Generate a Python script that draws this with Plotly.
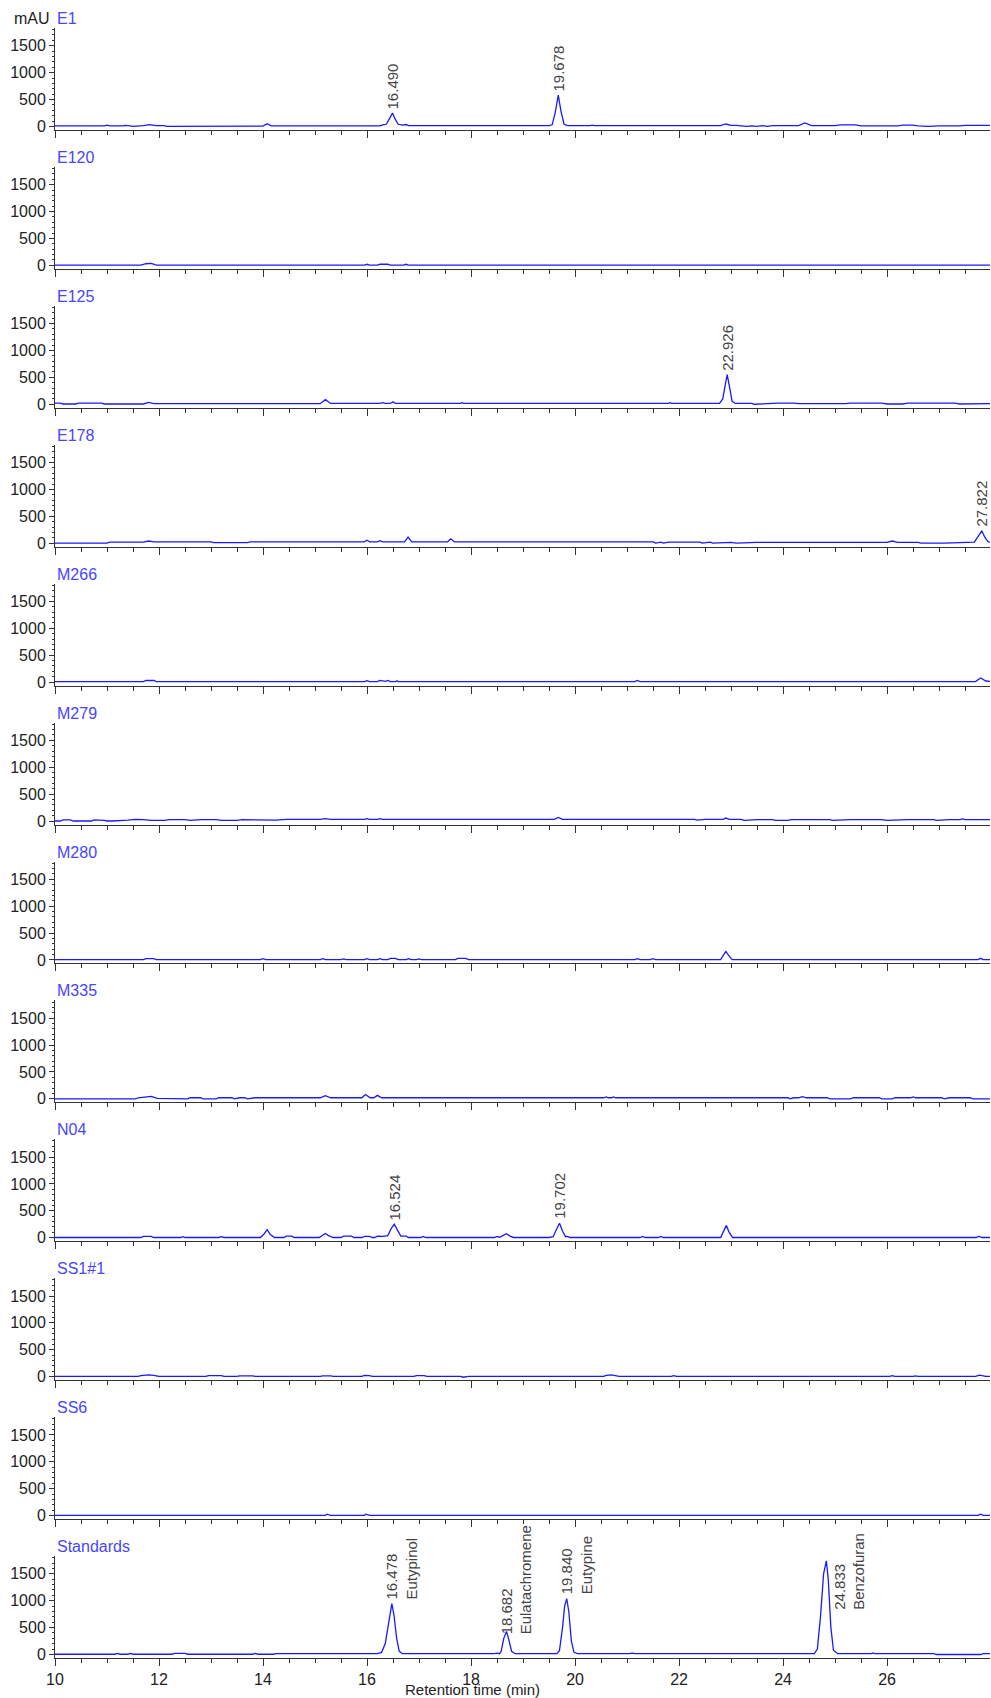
import plotly.graph_objects as go
from plotly.subplots import make_subplots

# ---------------- data (retention time in min, absorbance in mAU) ----------------
sample_names = ["E1", "E120", "E125", "E178", "M266", "M279", "M280", "M335",
                "N04", "SS1#1", "SS6", "Standards"]

e1 = [(10.0, 10), (10.95, 10), (11.0, 25), (11.05, 10), (11.3, 10), (11.35, 20), (11.45, 10),
      (11.5, 0), (11.7, 15), (11.82, 35), (11.95, 15), (12.1, 15), (12.15, 0), (14.0, 5),
      (14.08, 50), (14.16, 10), (16.2, 10), (16.25, 10), (16.3, 30), (16.37, 40), (16.43, 140),
      (16.49, 250), (16.54, 140), (16.6, 40), (16.68, 25), (16.75, 35), (16.8, 15), (16.9, 15),
      (19.5, 15), (19.56, 30), (19.62, 260), (19.678, 580), (19.73, 280), (19.79, 40),
      (19.86, 15), (20.3, 15), (20.33, 25), (20.37, 15), (22.8, 15), (22.9, 45), (23.0, 20),
      (23.1, 20), (23.3, 0), (23.4, 10), (23.5, 0), (23.6, 15), (23.7, 0), (23.8, 15),
      (24.3, 15), (24.42, 65), (24.55, 15), (25.0, 15), (25.1, 30), (25.4, 30), (25.5, 10),
      (26.2, 10), (26.3, 25), (26.5, 25), (26.6, 10), (26.8, 0), (27.0, 10), (27.4, 10),
      (27.5, 20), (27.98, 20)]

e120 = [(10.0, 5), (11.65, 5), (11.75, 30), (11.85, 35), (11.95, 5), (15.95, 5), (16.0, 20),
        (16.05, 5), (16.2, 5), (16.25, 20), (16.4, 20), (16.45, 5), (16.7, 5), (16.75, 20),
        (16.8, 5), (19.0, 5), (19.03, 15), (19.06, 5), (27.98, 5)]

e125 = [(10.0, 20), (10.1, 20), (10.15, 5), (10.4, 5), (10.45, 20), (10.9, 20), (10.95, 5),
        (11.7, 5), (11.8, 35), (11.9, 10), (15.1, 10), (15.2, 85), (15.3, 15), (16.25, 15),
        (16.3, 30), (16.35, 15), (16.45, 15), (16.5, 45), (16.55, 15), (17.8, 15), (17.83, 30),
        (17.86, 15), (21.8, 15), (21.83, 30), (21.86, 15), (22.5, 15), (22.7, 5), (22.78, 15),
        (22.84, 100), (22.89, 380), (22.926, 550), (22.97, 330), (23.02, 60), (23.08, 15),
        (23.4, 15), (23.45, 0), (23.6, 10), (23.8, 10), (23.9, 20), (24.2, 20), (24.3, 10),
        (25.2, 10), (25.3, 20), (25.9, 20), (26.0, 5), (26.3, 5), (26.4, 20), (27.3, 20),
        (27.4, 5), (27.98, 10)]

e178 = [(10.0, 0), (11.0, 0), (11.05, 20), (11.7, 20), (11.8, 40), (11.9, 25), (13.0, 25),
        (13.05, 10), (13.7, 10), (13.75, 25), (15.95, 25), (16.0, 55), (16.05, 25), (16.2, 25),
        (16.25, 45), (16.3, 25), (16.72, 25), (16.79, 115), (16.86, 25), (17.55, 25),
        (17.61, 80), (17.68, 25), (21.5, 25), (21.55, 0), (21.65, 20), (21.7, 0), (21.8, 20),
        (22.4, 20), (22.45, 0), (22.6, 20), (22.65, 0), (23.0, 15), (23.1, 0), (23.5, 15),
        (26.0, 15), (26.1, 40), (26.2, 15), (26.6, 15), (26.65, 0), (27.1, 0), (27.68, 20),
        (27.75, 120), (27.822, 230), (27.88, 110), (27.94, 30), (27.98, 20)]

m266 = [(10.0, 10), (11.7, 10), (11.75, 30), (11.9, 30), (11.95, 10), (15.95, 10), (16.0, 25),
        (16.05, 10), (16.2, 10), (16.25, 30), (16.35, 15), (16.4, 30), (16.45, 10), (16.55, 10),
        (16.58, 25), (16.6, 10), (21.15, 10), (21.2, 30), (21.25, 10), (27.7, 10), (27.8, 75),
        (27.9, 20), (27.98, 15)]

m279 = [(10.0, 0), (10.1, 0), (10.15, 20), (10.3, 20), (10.35, 0), (10.7, 0), (10.75, 20),
        (10.9, 20), (10.95, 10), (11.0, 0), (11.1, 0), (11.4, 15), (11.55, 30), (11.7, 25),
        (11.85, 10), (12.1, 10), (12.2, 25), (12.5, 25), (12.6, 10), (12.8, 25), (13.1, 25),
        (13.2, 10), (13.5, 10), (13.6, 25), (14.2, 25), (14.25, 15), (14.45, 30), (15.1, 30),
        (15.2, 45), (15.3, 30), (15.95, 30), (16.0, 45), (16.05, 30), (16.2, 30), (16.25, 45),
        (16.3, 30), (19.6, 30), (19.68, 65), (19.76, 30), (22.3, 30), (22.35, 15), (22.5, 30),
        (22.85, 30), (22.9, 55), (22.97, 30), (23.2, 30), (23.25, 10), (23.5, 25), (23.8, 25),
        (23.85, 10), (24.1, 10), (24.15, 25), (24.9, 25), (24.95, 10), (25.3, 25), (25.9, 25),
        (26.0, 10), (26.4, 25), (26.9, 25), (26.95, 10), (27.2, 25), (27.4, 25), (27.45, 40),
        (27.5, 25), (27.98, 25)]

m280 = [(10.0, 5), (11.7, 5), (11.75, 25), (11.9, 25), (11.95, 5), (13.95, 5), (14.0, 25),
        (14.05, 5), (15.1, 5), (15.15, 25), (15.2, 5), (15.5, 5), (15.55, 20), (15.6, 5),
        (15.95, 5), (16.0, 25), (16.05, 5), (16.2, 5), (16.25, 25), (16.3, 5), (16.4, 5),
        (16.45, 30), (16.55, 30), (16.6, 5), (16.75, 5), (16.8, 25), (16.85, 5), (16.95, 5),
        (17.0, 20), (17.05, 5), (17.7, 5), (17.75, 30), (17.9, 30), (17.95, 5), (21.15, 5),
        (21.2, 25), (21.25, 5), (21.45, 5), (21.5, 25), (21.55, 5), (22.8, 5), (22.86, 100),
        (22.9, 160), (22.95, 90), (23.02, 5), (27.75, 5), (27.8, 30), (27.85, 5), (27.98, 5)]

m335 = [(10.0, 0), (11.55, 0), (11.6, 20), (11.85, 45), (11.97, 10), (12.5, 10), (12.55, 0),
        (12.6, 20), (12.8, 20), (12.85, 0), (13.1, 0), (13.15, 20), (13.4, 20), (13.45, 0),
        (13.55, 20), (13.65, 20), (13.7, 0), (13.85, 20), (15.1, 20), (15.2, 60), (15.3, 20),
        (15.9, 20), (15.97, 80), (16.06, 20), (16.13, 20), (16.2, 65), (16.28, 20), (20.55, 20),
        (20.6, 35), (20.64, 20), (20.7, 20), (20.74, 35), (20.78, 20), (24.1, 20), (24.13, 0),
        (24.2, 20), (24.3, 20), (24.37, 40), (24.45, 20), (24.85, 20), (24.9, 0), (25.3, 0),
        (25.35, 20), (25.85, 20), (25.9, 0), (26.1, 0), (26.15, 20), (26.45, 20), (26.5, 35),
        (26.55, 20), (27.05, 20), (27.1, 0), (27.2, 20), (27.6, 20), (27.65, 0), (27.98, 0)]

n04 = [(10.0, 5), (11.65, 5), (11.7, 25), (11.85, 25), (11.9, 5), (12.42, 5), (12.46, 20),
       (12.5, 5), (13.15, 5), (13.2, 20), (13.25, 5), (13.95, 5), (14.02, 70), (14.08, 150),
       (14.14, 60), (14.22, 5), (14.4, 5), (14.45, 30), (14.55, 30), (14.6, 5), (15.08, 5),
       (15.15, 50), (15.2, 80), (15.26, 40), (15.35, 5), (15.5, 5), (15.55, 30), (15.7, 30),
       (15.75, 5), (15.9, 5), (15.95, 25), (16.05, 25), (16.1, 5), (16.15, 5), (16.2, 30),
       (16.3, 25), (16.4, 40), (16.47, 180), (16.524, 250), (16.58, 150), (16.65, 30),
       (16.75, 30), (16.8, 5), (17.03, 5), (17.08, 25), (17.13, 5), (18.45, 5), (18.5, 25),
       (18.55, 10), (18.62, 45), (18.68, 75), (18.75, 30), (18.82, 5), (19.5, 5), (19.58, 20),
       (19.64, 150), (19.702, 270), (19.76, 120), (19.82, 20), (19.86, 25), (19.9, 5),
       (21.25, 5), (21.3, 25), (21.35, 5), (21.6, 5), (21.65, 25), (21.7, 5), (22.8, 5),
       (22.86, 120), (22.91, 230), (22.96, 110), (23.03, 5), (27.72, 5), (27.77, 30),
       (27.82, 5), (27.98, 5)]

ss1_1 = [(10.0, 5), (11.6, 5), (11.65, 20), (11.8, 35), (11.9, 25), (12.0, 5), (12.9, 5),
         (12.95, 20), (13.2, 20), (13.25, 5), (13.5, 5), (13.55, 15), (13.8, 15), (13.85, 5),
         (15.1, 5), (15.15, 15), (15.3, 15), (15.35, 5), (15.9, 5), (15.95, 25), (16.05, 20),
         (16.1, 5), (16.9, 5), (16.95, 20), (17.1, 20), (17.15, 5), (17.8, 5), (17.85, -10),
         (17.95, 5), (20.55, 5), (20.6, 25), (20.7, 35), (20.8, 15), (20.85, 5), (21.85, 5),
         (21.9, 20), (21.95, 5), (26.05, 5), (26.1, 20), (26.15, 5), (26.5, 5), (26.55, 15),
         (26.6, 5), (27.7, 5), (27.78, 30), (27.85, 15), (27.9, 5), (27.98, 5)]

ss6 = [(10.0, 5), (11.8, 5), (11.83, 15), (11.86, 5), (15.2, 5), (15.23, 25), (15.3, 5),
       (15.95, 5), (15.98, 25), (16.05, 5), (27.75, 5), (27.8, 25), (27.85, 5), (27.98, 5)]

standards = [(10.0, 5), (11.15, 5), (11.2, 20), (11.25, 5), (11.4, 5), (11.45, 20), (11.5, 5),
             (12.25, 5), (12.3, 20), (12.5, 20), (12.55, 5), (13.8, 5), (13.85, 20), (13.9, 5),
             (14.2, 5), (14.25, 15), (16.2, 15), (16.28, 40), (16.35, 200), (16.42, 650),
             (16.478, 945), (16.52, 720), (16.57, 300), (16.62, 60), (16.68, 15), (18.45, 15),
             (18.5, 25), (18.55, 15), (18.58, 60), (18.63, 300), (18.682, 430), (18.72, 300),
             (18.78, 60), (18.85, 15), (19.65, 15), (19.7, 70), (19.76, 500), (19.8, 900),
             (19.84, 1040), (19.88, 800), (19.93, 250), (19.98, 40), (20.05, 15), (21.05, 15),
             (21.1, 25), (21.15, 15), (21.3, 15), (21.35, 25), (21.4, 15), (24.6, 15),
             (24.66, 100), (24.72, 700), (24.78, 1500), (24.833, 1740), (24.87, 1400),
             (24.92, 500), (24.97, 80), (25.05, 15), (25.7, 15), (25.73, 30), (25.76, 15),
             (26.9, 15), (26.95, 0), (27.45, 0), (27.5, 10), (27.6, 0), (27.8, 0), (27.85, 15),
             (27.98, 15)]

chromatograms = [e1, e120, e125, e178, m266, m279, m280, m335, n04, ss1_1, ss6, standards]

# peak labels: (panel index, retention time, label text)
peak_labels = [
    (0, 16.490, "16.490"),
    (0, 19.678, "19.678"),
    (2, 22.926, "22.926"),
    (3, 27.822, "27.822"),
    (8, 16.524, "16.524"),
    (8, 19.702, "19.702"),
    (11, 16.478, "16.478<br>Eutypinol"),
    (11, 18.682, "18.682<br>Eulatachromene"),
    (11, 19.840, "19.840<br>Eutypine"),
    (11, 24.833, "24.833<br>Benzofuran"),
]

y_ticks = [0, 500, 1000, 1500]
x_ticks = [10, 12, 14, 16, 18, 20, 22, 24, 26]

# ---------------- styling ----------------
FONT = "Liberation Sans, Arial, sans-serif"
LINE_BLUE = "#1a1aff"
LABEL_BLUE = "#4646ff"
AXIS_COL = "#333333"
TEXT_COL = "#222222"
ANNOT_COL = "#444444"

FIG_W, FIG_H = 991, 1698
M_L, M_R, M_T, M_B = 55, 1, 28, 40
plot_h = FIG_H - M_T - M_B
n = len(sample_names)
fig = make_subplots(rows=n, cols=1, shared_xaxes=True, vertical_spacing=37 / plot_h)

for i, (name, pts) in enumerate(zip(sample_names, chromatograms)):
    t = [p[0] for p in pts]
    a = [p[1] for p in pts]
    fig.add_trace(go.Scatter(x=t, y=a, mode="lines", name=name,
                             line=dict(color=LINE_BLUE, width=1.3),
                             hoverinfo="skip", showlegend=False),
                  row=i + 1, col=1)
    yd = "y domain" if i == 0 else f"y{i + 1} domain"
    fig.add_annotation(text=name, xref="paper", x=0, yref=yd, y=1,
                       xanchor="left", yanchor="bottom", showarrow=False, yshift=-1,
                       font=dict(family=FONT, size=16, color=LABEL_BLUE))

fig.add_annotation(text="mAU", xref="paper", x=0, yref="y domain", y=1,
                   xanchor="right", yanchor="bottom", showarrow=False, xshift=-3, yshift=-1,
                   font=dict(family=FONT, size=16, color=TEXT_COL))

# per-label placement tweaks (pixel shifts)
label_style = {
    "18.682<br>Eulatachromene": dict(yshift=-5),
    "24.833<br>Benzofuran": dict(xshift=23, yshift=-51),
}

for panel, rt, txt in peak_labels:
    pts = chromatograms[panel]
    apex = max(p[1] for p in pts if abs(p[0] - rt) <= 0.06)
    two_line = "<br>" in txt
    st = label_style.get(txt, {})
    xr = "x" if panel == 0 else f"x{panel + 1}"
    yr = "y" if panel == 0 else f"y{panel + 1}"
    fig.add_annotation(text=txt, x=rt, y=apex, xref=xr, yref=yr,
                       textangle=-90, showarrow=False, align="left",
                       xanchor="center", yanchor="bottom",
                       xshift=st.get("xshift", 10 if two_line else 0),
                       yshift=st.get("yshift", 2),
                       font=dict(family=FONT, size=15, color=ANNOT_COL))

fig.add_annotation(text="Retention time (min)", xref="paper", x=0.447, yref="paper", y=0,
                   xanchor="center", yanchor="middle", yshift=-31, showarrow=False,
                   font=dict(family=FONT, size=15, color=TEXT_COL))

fig.update_xaxes(range=[10, 27.98], showline=True, linecolor=AXIS_COL, linewidth=1,
                 ticks="outside", ticklen=7, tickcolor=AXIS_COL, tickvals=x_ticks,
                 minor=dict(dtick=0.5, tick0=10, ticks="outside", ticklen=4,
                            tickcolor=AXIS_COL, showgrid=False),
                 showgrid=False, zeroline=False, showticklabels=False, automargin=False,
                 tickfont=dict(family=FONT, size=16, color=TEXT_COL))
fig.update_xaxes(showticklabels=True, row=n, col=1)

fig.update_yaxes(range=[-65, 1830], showline=True, linecolor=AXIS_COL, linewidth=1,
                 ticks="outside", ticklen=5, tickcolor=AXIS_COL, tickvals=y_ticks,
                 minor=dict(dtick=100, tick0=0, ticks="outside", ticklen=2,
                            tickcolor=AXIS_COL, showgrid=False),
                 showgrid=False, zeroline=False, automargin=False,
                 tickfont=dict(family=FONT, size=16, color=TEXT_COL))

fig.update_layout(width=FIG_W, height=FIG_H,
                  margin=dict(l=M_L, r=M_R, t=M_T, b=M_B, autoexpand=False),
                  plot_bgcolor="white", paper_bgcolor="white", showlegend=False,
                  font=dict(family=FONT))

# remove the browser's default 8px body margin so the 991x1698 figure fills the window
fig.write_html("out.html", config={"displayModeBar": False},
               post_script="document.body.style.margin='0';document.body.style.overflow='hidden';")
